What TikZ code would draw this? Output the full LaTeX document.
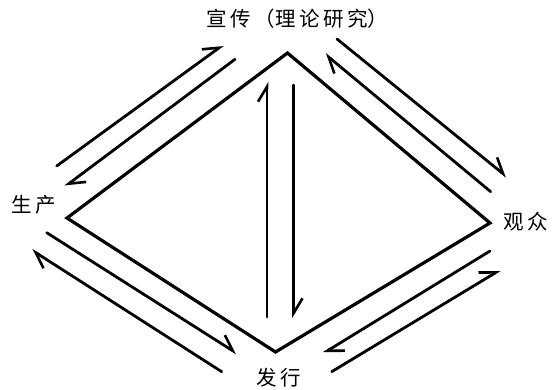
\documentclass[tikz,border=0pt]{standalone}
\usepackage{fontspec}
\newfontfamily\cjk{Noto Sans CJK SC}
\usetikzlibrary{arrows.meta}
\newcommand{\cjkgap}{\kern3.5pt}
\begin{document}
\begin{tikzpicture}[x=1pt,y=-1pt,
  lbl/.style={inner sep=0pt,font=\cjk\fontsize{20.5}{20.5}\selectfont},
  edge/.style={line width=3.2pt,line join=miter,line cap=round},
  flow/.style={line width=2.8pt,line cap=round,
    -{Straight Barb[harpoon,length=15pt,width=18pt,line width=2.6pt]}}]
\useasboundingbox (0,0) rectangle (553,390);
\fill[white] (0,0) rectangle (553,390);
% labels
\node[lbl] (xc) at (297.5,19) {宣\cjkgap 传\cjkgap （理\cjkgap 论\cjkgap 研\cjkgap 究）};
\node[lbl] (sc) at (34,205) {生\cjkgap 产};
\node[lbl] (gz) at (526,222) {观\cjkgap 众};
\node[lbl] (fx) at (278.5,377.5) {发\cjkgap 行};
% diamond
\coordinate (T) at (287.5,53);
\coordinate (L) at (67,218);
\coordinate (B) at (275.5,352);
\coordinate (R) at (490,223);
\draw[edge] (T) -- (L) -- (B) -- (R) -- cycle;
% arrow end points
\coordinate (a1s) at (56.7,166);   \coordinate (a1e) at (223,45);
\coordinate (a2s) at (235,59.3);   \coordinate (a2e) at (65,186.5);
\coordinate (a3s) at (337,39);     \coordinate (a3e) at (506.7,176.7);
\coordinate (a4s) at (490.7,191.7);\coordinate (a4e) at (325,54);
\coordinate (a5s) at (46.7,232.7); \coordinate (a5e) at (236.7,353.3);
\coordinate (a6s) at (221.7,371.7);\coordinate (a6e) at (31.7,250);
\coordinate (a7s) at (490,251);    \coordinate (a7e) at (323.3,353.3);
\coordinate (a8s) at (331.7,371.7);\coordinate (a8e) at (500,270);
\coordinate (a9s) at (267,317);    \coordinate (a9e) at (267,82);
\coordinate (a10s) at (293.5,85);  \coordinate (a10e) at (293.5,318);
\foreach \i in {1,...,10} {\draw[flow] (a\i s) -- (a\i e);}
\end{tikzpicture}
\end{document}
